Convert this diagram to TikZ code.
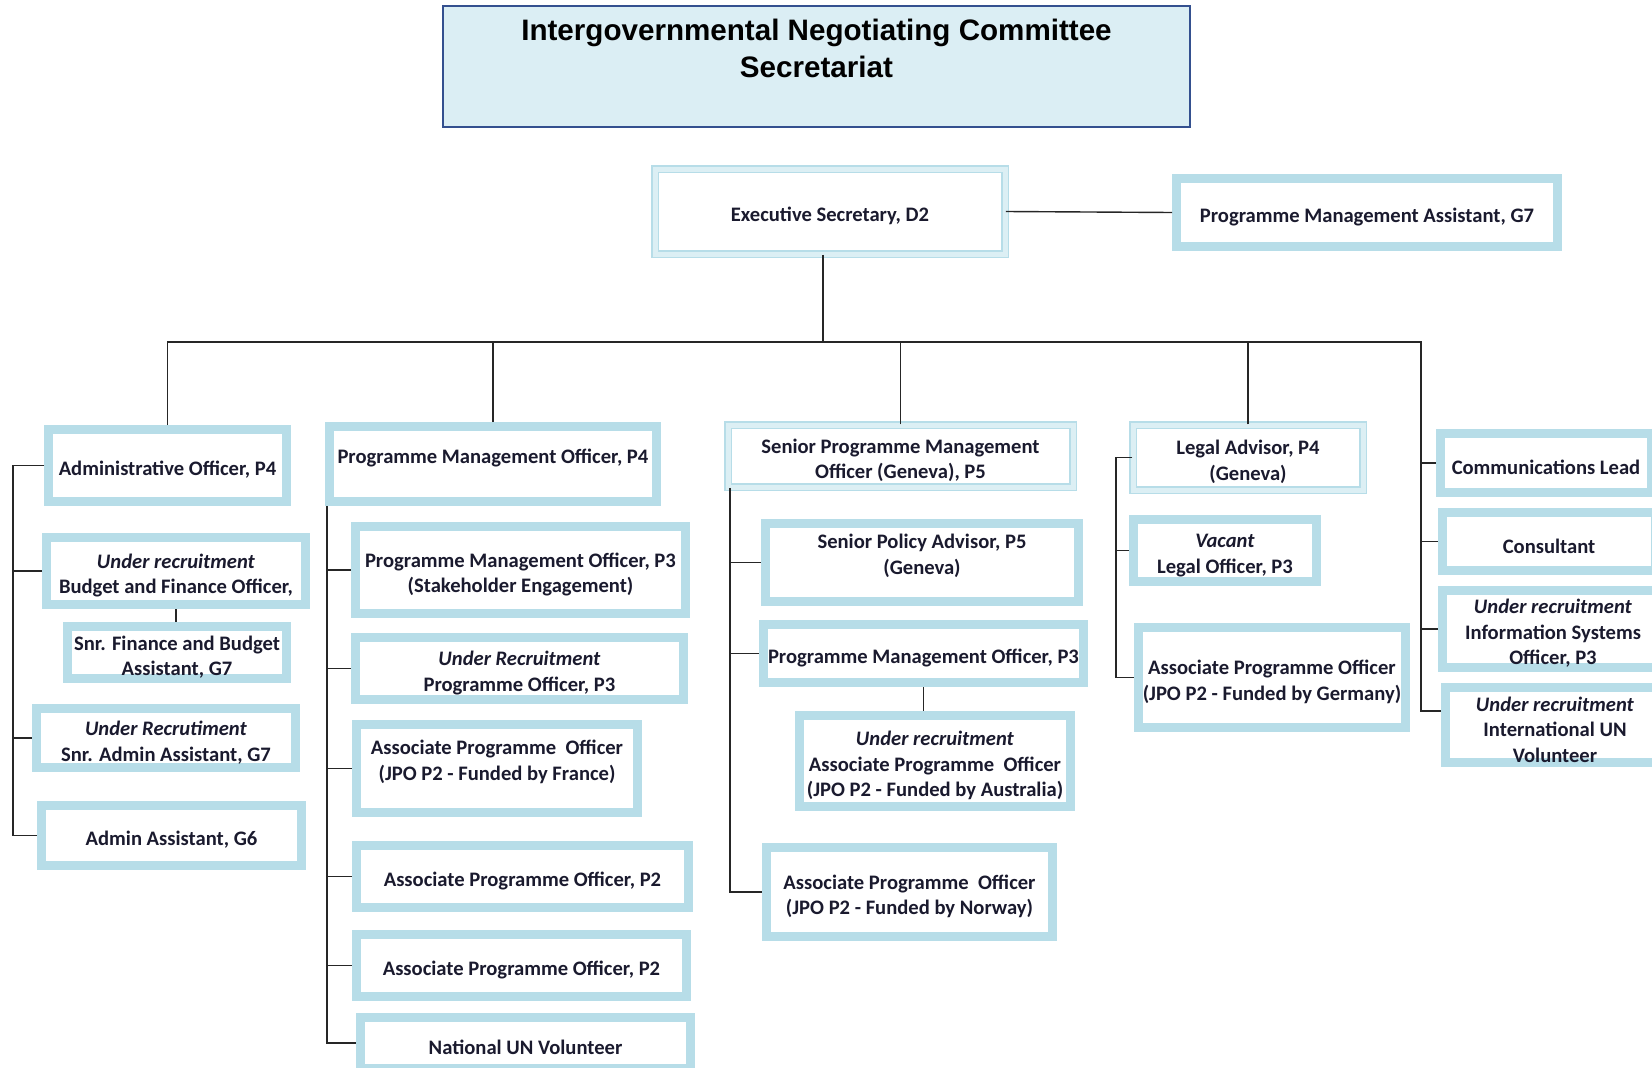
\documentclass[tikz,border=0pt]{standalone}
\usepackage{fontspec}
\setmainfont{Carlito}
\newfontfamily\headfont{Liberation Sans}
\usepackage{tikz}
\usetikzlibrary{positioning, backgrounds}
\definecolor{boxBlue}{HTML}{B7DDE8}
\definecolor{paleBlue}{HTML}{DCEFF4}
\definecolor{headFill}{HTML}{DBEEF4}
\definecolor{headLine}{HTML}{34508F}
\definecolor{postText}{HTML}{1A1A2E}
\newcommand\postFont{\fontsize{20.6}{25.5}\selectfont\bfseries}
\newcommand\headFont{\headfont\fontsize{29.6}{37}\selectfont\bfseries}
\tikzstyle{postBox} = [draw=boxBlue, line width=9pt, fill=white, inner sep=0pt, align=flush center, font=\postFont, text=postText, execute at begin node={\rule{0pt}{23.5pt}}]
\tikzstyle{softBox} = [postBox, line width=1.5pt, double=paleBlue, double distance=5pt]
\tikzstyle{headBox} = [draw=headLine, line width=2pt, fill=headFill, inner sep=0pt]
\tikzstyle{orgLine} = [draw=black!85, line width=1.4pt]
\tikzset{size/.style args={#1x#2}{minimum width=#1, text width=#1, minimum height=#2}}

\begin{document}
\begin{tikzpicture}[x=1pt, y=-1pt]
        \useasboundingbox (0,0) rectangle (1652,1068);
        % We start by placing the title and the top posts
        \node [headBox, minimum width=747, minimum height=121] (headBox) at (816.5,66.5) {};
        \node [align=center, font=\headFont] (headText) at (816.5,48.5) {Intergovernmental Negotiating Committee\\Secretariat};
        \node [softBox, size=350x85] (execSec) at (830,211.5) {Executive Secretary, D2};
        \node [postBox, size=381x68] (progAssist) at (1367,212.5) {Programme Management Assistant, G7};

        % Administration column
        \node [postBox, size=238x72] (adminOff) at (167.5,465.5) {Administrative Officer, P4};
        \node [postBox, size=259x67] (budgetOff) at (176,571) {\textit{Under recruitment}\\Budget and Finance Officer,};
        \node [postBox, size=219x52] (finAssist) at (177,652.5) {Snr. Finance and Budget\\Assistant, G7};
        \node [postBox, size=259x59] (snrAdmin) at (166,738) {\textit{Under Recrutiment}\\Snr. Admin Assistant, G7};
        \node [postBox, size=260x60] (adminAssist) at (171.5,835.5) {Admin Assistant, G6};

        % Programme column
        \node [postBox, size=327x75] (progOffFour) at (493,464) {Programme Management Officer, P4\\\mbox{}};
        \node [postBox, size=330x87] (progOffStake) at (520.5,570) {Programme Management Officer, P3\\(Stakeholder Engagement)};
        \node [postBox, size=328x62] (progOffThree) at (519.5,668.5) {\textit{Under Recruitment}\\Programme Officer, P3};
        \node [postBox, size=281x88] (assocFrance) at (497,768.5) {Associate Programme~~Officer\\(JPO P2 - Funded by France)\\\mbox{}};
        \node [postBox, size=332x62] (assocOne) at (522.5,876.5) {Associate Programme Officer, P2};
        \node [postBox, size=330x62] (assocTwo) at (521.5,965.5) {Associate Programme Officer, P2};
        \node [postBox, size=330x51] (natVol) at (525.5,1043) {National UN Volunteer};

        % Geneva column
        \node [softBox, size=345x62] (seniorProg) at (900.5,456) {Senior Programme Management\\Officer (Geneva), P5};
        \node [postBox, size=313x78] (policyAdv) at (922,562.5) {Senior Policy Advisor, P5\\(Geneva)\\\mbox{}};
        \node [postBox, size=320x58] (progOffGva) at (923.5,653.5) {Programme Management Officer, P3};
        \node [postBox, size=271x91] (assocAustralia) at (935,761) {\textit{Under recruitment}\\Associate Programme~~Officer\\(JPO P2 - Funded by Australia)};
        \node [postBox, size=286x89] (assocNorway) at (909.5,892) {Associate Programme~~Officer\\(JPO P2 - Funded by Norway)};

        % Legal column
        \node [softBox, size=230x65] (legalAdv) at (1248,457.5) {Legal Advisor, P4\\(Geneva)};
        \node [postBox, size=183x62] (legalOff) at (1225,550.5) {\textit{Vacant}\\Legal Officer, P3};
        \node [postBox, size=267x100] (assocGermany) at (1272,677.5) {Associate Programme Officer\\(JPO P2 - Funded by Germany)};

        % Support column
        \node [postBox, size=211x59] (commLead) at (1546,463) {Communications Lead};
        \node [postBox, size=213x58] (consultant) at (1549,541.5) {Consultant};
        \node [postBox, size=221x73] (infoSys) at (1553,629) {\textit{Under recruitment}\\Information Systems\\Officer, P3};
        \node [postBox, size=219x75] (intVol) at (1555,725) {\textit{Under recruitment}\\International UN\\Volunteer};

        % Once the posts are placed, the reporting lines follow
        \coordinate (bus) at (823,342);
        \coordinate (busEnd) at (1421,342);
        \coordinate (railA) at (13,0);
        \coordinate (railB) at (327,0);
        \coordinate (railC) at (730,0);
        \coordinate (railD) at (1116,0);

        \draw [orgLine] (execSec.east) -- (progAssist.west);
        \draw [orgLine] (execSec.south -| bus) -- (bus);
        \draw [orgLine] (adminOff.north) |- (busEnd) |- ([yshift=14pt]intVol.west);
        \foreach \post in {progOffFour, seniorProg, legalAdv}
            \draw [orgLine] (\post.north) -- (\post.north |- bus);
        \foreach \post in {commLead, consultant, infoSys}
            \draw [orgLine] (busEnd |- \post.west) -- (\post.west);

        \draw [orgLine] (adminOff.west) -- (railA |- adminOff.west) -- (railA |- adminAssist.west) -- (adminAssist.west);
        \foreach \post in {budgetOff, snrAdmin}
            \draw [orgLine] (railA |- \post.west) -- (\post.west);
        \draw [orgLine] (budgetOff.south) -- (budgetOff.south |- finAssist.north);

        \draw [orgLine] (railB |- progOffFour.south) -- (railB |- natVol.west) -- (natVol.west);
        \foreach \post in {progOffStake, progOffThree, assocFrance, assocOne, assocTwo}
            \draw [orgLine] (railB |- \post.west) -- (\post.west);

        \draw [orgLine] (railC |- seniorProg.south) -- (railC |- assocNorway.west) -- (assocNorway.west);
        \foreach \post in {policyAdv, progOffGva}
            \draw [orgLine] (railC |- \post.west) -- (\post.west);
        \draw [orgLine] (progOffGva.south) -- (progOffGva.south |- assocAustralia.north);

        \draw [orgLine] (legalAdv.west) -- (railD |- legalAdv.west) -- (railD |- assocGermany.west) -- (assocGermany.west);
        \draw [orgLine] (railD |- legalOff.west) -- (legalOff.west);
\end{tikzpicture}
\end{document}
